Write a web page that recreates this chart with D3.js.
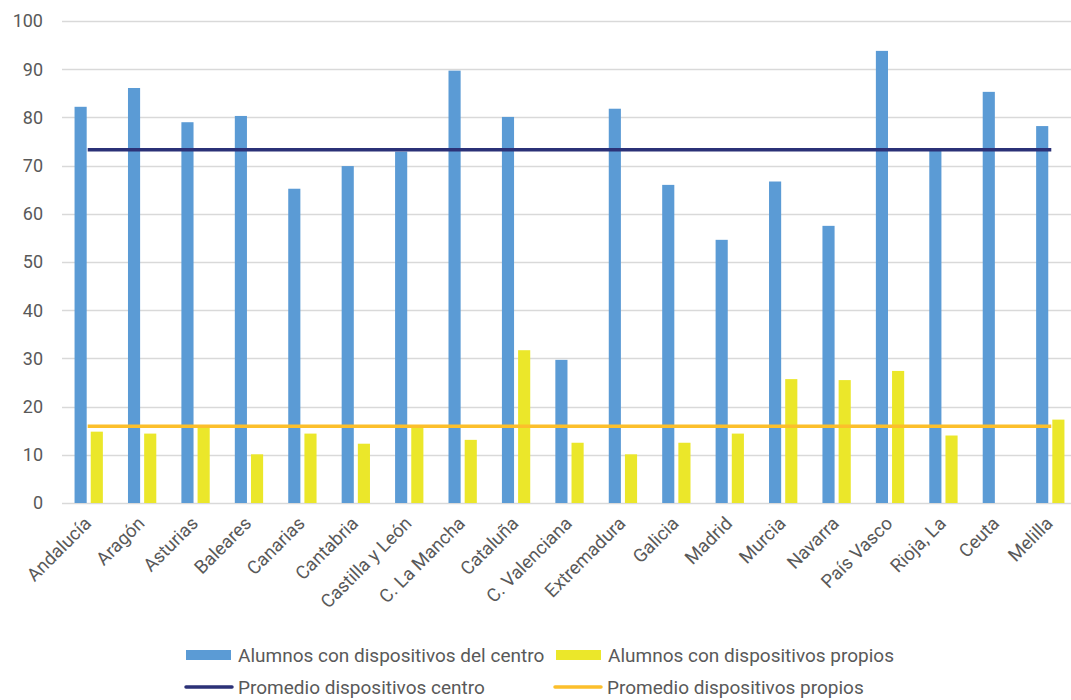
<!DOCTYPE html>
<html>
<head>
<meta charset="utf-8">
<script src="https://cdn.jsdelivr.net/npm/d3@7"></script>
<style>
	body { margin: 0; background: #fff; }
	text { font-family: Roboto, sans-serif; fill: #595959; }
</style>
</head>
<body>
<svg id="chart" width="1071" height="700"></svg>
<script>
"use strict";

// Data
const regions = ["Andalucía", "Aragón", "Asturias", "Baleares", "Canarias", "Cantabria",
	"Castilla y León", "C. La Mancha", "Cataluña", "C. Valenciana", "Extremadura", "Galicia",
	"Madrid", "Murcia", "Navarra", "País Vasco", "Rioja, La", "Ceuta", "Melilla"];
const centro = [82.2, 86.1, 79.0, 80.3, 65.2, 69.9, 72.9, 89.7, 80.1, 29.7, 81.8, 66.0,
	54.6, 66.7, 57.5, 93.8, 73.2, 85.3, 78.2];
const propios = [14.8, 14.4, 15.6, 10.1, 14.4, 12.3, 15.7, 13.1, 31.7, 12.5, 10.1, 12.5,
	14.4, 25.7, 25.5, 27.4, 14.0, null, 17.3];
const promedioCentro = 73.3;
const promedioPropios = 15.9;
const yTicks = [0, 10, 20, 30, 40, 50, 60, 70, 80, 90, 100];

const series = [
	{ key: "centro", name: "Alumnos con dispositivos del centro", color: "#5B9BD5", values: centro },
	{ key: "propios", name: "Alumnos con dispositivos propios", color: "#EBE72A", values: propios }
];
const averages = [
	{ name: "Promedio dispositivos centro", color: "#2B3177", value: promedioCentro },
	{ name: "Promedio dispositivos propios", color: "#FCBF2B", value: promedioPropios }
];

const svg = d3.select("#chart");

// Scales
const x = d3.scaleBand().domain(regions).range([62, 1077]);
const xSub = d3.scaleBand()
	.domain(series.map(s => s.key))
	.range([x.bandwidth() * 0.235, x.bandwidth() * 0.765])
	.paddingInner(0.25);
const y = d3.scaleLinear().domain([0, 100]).range([503, 21]);

// Gridlines
svg.append("g")
	.selectAll("line")
	.data(yTicks)
	.enter()
	.append("line")
	.attr("x1", 62)
	.attr("x2", 1071)
	.attr("y1", d => Math.round(y(d)) + 0.5)
	.attr("y2", d => Math.round(y(d)) + 0.5)
	.style("stroke", "#D9D9D9")
	.style("stroke-width", 1.3);

// Y axis labels
svg.append("g")
	.selectAll("text")
	.data(yTicks)
	.enter()
	.append("text")
	.attr("x", 43)
	.attr("y", d => y(d))
	.attr("dy", "0.35em")
	.attr("text-anchor", "end")
	.style("font-size", "18px")
	.text(d => d);

// Bars
series.forEach(function(s) {
	svg.append("g")
		.selectAll("rect")
		.data(regions.map((r, i) => ({ region: r, value: s.values[i] })).filter(d => d.value != null))
		.enter()
		.append("rect")
		.attr("x", d => x(d.region) + xSub(s.key))
		.attr("width", xSub.bandwidth())
		.attr("y", d => y(d.value))
		.attr("height", d => y(0) - y(d.value))
		.style("fill", s.color);
});

// Average lines (from first to last category centre)
averages.forEach(function(a) {
	svg.append("line")
		.attr("x1", x(regions[0]) + x.bandwidth() / 2 - 1)
		.attr("x2", x(regions[regions.length - 1]) + x.bandwidth() / 2 + 1)
		.attr("y1", y(a.value))
		.attr("y2", y(a.value))
		.style("stroke", a.color)
		.style("stroke-width", 3.5);
});

// X labels, rotated
svg.append("g")
	.selectAll("text")
	.data(regions)
	.enter()
	.append("text")
	.attr("transform", d => "translate(" + (x(d) + x.bandwidth() / 2 - 1) + ",520) rotate(-45)")
	.attr("text-anchor", "end")
	.attr("dy", "0.35em")
	.style("font-size", "18.5px")
	.text(d => d);

// Legend
const legendItems = [
	{ type: "rect", color: series[0].color, name: series[0].name, x: 186, y: 655 },
	{ type: "rect", color: series[1].color, name: series[1].name, x: 556, y: 655 },
	{ type: "line", color: averages[0].color, name: averages[0].name, x: 186, y: 687 },
	{ type: "line", color: averages[1].color, name: averages[1].name, x: 555, y: 687 }
];

const legend = svg.append("g");
legendItems.forEach(function(d) {
	if (d.type == "rect") {
		legend.append("rect")
			.attr("x", d.x)
			.attr("y", d.y - 5)
			.attr("width", 45)
			.attr("height", 10)
			.style("fill", d.color);
	} else {
		legend.append("line")
			.attr("x1", d.x)
			.attr("x2", d.x + 46)
			.attr("y1", d.y)
			.attr("y2", d.y)
			.style("stroke", d.color)
			.style("stroke-width", 3.5)
			.style("stroke-linecap", "round");
	}
	legend.append("text")
		.attr("x", d.x + 52)
		.attr("y", d.y)
		.attr("dy", "0.35em")
		.style("font-size", "19px")
		.text(d.name);
});
</script>
</body>
</html>
